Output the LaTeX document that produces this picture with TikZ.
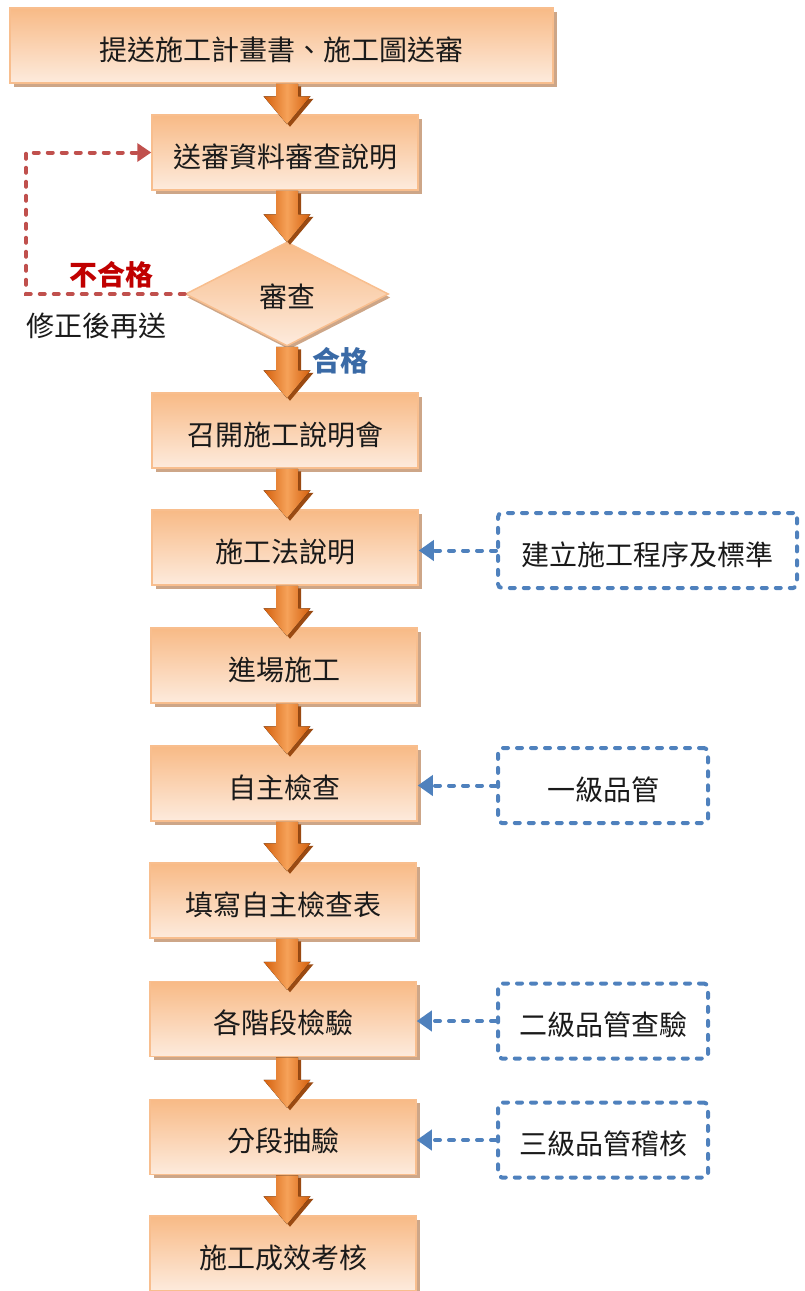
\documentclass[tikz,border=0pt]{standalone}
\usepackage{fontspec}
\newfontfamily\cjk{Noto Sans CJK TC}
\usetikzlibrary{shapes.geometric,shadows,calc,arrows.meta}
\definecolor{boxtop}{HTML}{F8BA86}
\definecolor{boxbot}{HTML}{FDEBDD}
\definecolor{boxedge}{HTML}{F8BE8E}
\definecolor{boxshadow}{HTML}{CDA688}
\definecolor{arrD}{HTML}{D45F0C}
\definecolor{arrL}{HTML}{F6A259}
\definecolor{arrS}{HTML}{9A4A12}
\definecolor{redline}{HTML}{C0504D}
\definecolor{redlab}{HTML}{C00000}
\definecolor{bluelab}{HTML}{3A6AA6}
\definecolor{blueline}{HTML}{4F81BD}
\definecolor{txt}{HTML}{1A1A1A}
\tikzset{
  box/.style={rectangle, draw=boxedge, line width=1.5pt, top color=boxtop, bottom color=boxbot,
    minimum height=75pt, minimum width=266pt, inner sep=0pt, text=txt,
    text height=29pt, text depth=0pt,
    drop shadow={shadow xshift=3.5pt, shadow yshift=-3.5pt, fill=boxshadow, opacity=1}},
  decision/.style={diamond, draw=boxedge, line width=1.5pt, top color=boxtop, bottom color=boxbot,
    minimum width=203pt, minimum height=104pt, inner sep=0pt, text=txt,
    text height=26pt, text depth=0pt,
    drop shadow={shadow xshift=2pt, shadow yshift=-3.5pt, fill=boxshadow, opacity=1}},
  barrow/.style={left color=arrD, right color=arrD, middle color=arrL,
    drop shadow={shadow xshift=3pt, shadow yshift=-2.5pt, fill=arrS, opacity=1}},
  bbox/.style={rectangle, draw=blueline, line width=4pt, dash pattern=on 5pt off 9pt,
    line cap=round, rounded corners=4pt, minimum height=75pt, inner sep=0pt, text=txt,
    text height=29pt, text depth=0pt},
  bluearrow/.style={draw=blueline, line width=4pt, dash pattern=on 5pt off 9pt, line cap=round,
    -{Triangle[length=15pt,width=20pt,line cap=butt]}},
  redarrow/.style={draw=redline, line width=4pt, dash pattern=on 5pt off 9pt, line cap=round,
    -{Triangle[length=14pt,width=18pt,line cap=butt]}},
  lab/.style={inner sep=0pt}
}
\newcommand\blockarrow[3]{%
  \coordinate (s) at (#1.south -| ax);
  \coordinate (t) at ($(#2.north -| ax)+(0,#3)$);
  \fill[barrow] ($(s)+(-11,0)$) -- ($(s)+(11,0)$) -- ($(t)+(11,-28)$) -- ($(t)+(23.5,-28)$)
    -- (t) -- ($(t)+(-23.5,-28)$) -- ($(t)+(-11,-28)$) -- cycle;}
\begin{document}
\begin{tikzpicture}[x=1pt,y=-1pt,font=\cjk\fontsize{28}{33}\selectfont]
\useasboundingbox (0,0) rectangle (805,1291);
\coordinate (ax) at (287,0);
% main boxes
\node[box, minimum width=543pt] (b1) at (281.5,45.5) {提送施工計畫書、施工圖送審};
\node[box] (b2) at (285,152.5) {送審資料審查說明};
\node[decision] (d) at (287,294) {審查};
\node[box] (b3) at (285,430.5) {召開施工說明會};
\node[box] (b4) at (285,547.5) {施工法說明};
\node[box] (b5) at (284,665.5) {進場施工};
\node[box] (b6) at (284,783.5) {自主檢查};
\node[box] (b7) at (283,900.5) {填寫自主檢查表};
\node[box] (b8) at (283,1019) {各階段檢驗};
\node[box] (b9) at (283,1137) {分段抽驗};
\node[box] (b10) at (283,1253.5) {施工成效考核};
% block arrows
\blockarrow{b1}{b2}{10}
\blockarrow{b2}{d}{1}
\blockarrow{d}{b3}{6}
\blockarrow{b3}{b4}{9}
\blockarrow{b4}{b5}{9}
\blockarrow{b5}{b6}{9}
\blockarrow{b6}{b7}{9}
\blockarrow{b7}{b8}{9}
\blockarrow{b8}{b9}{9}
\blockarrow{b9}{b10}{9}
% reject loop
\coordinate (rc) at (26,294);
\draw[redarrow] (d.west) -- (rc) |- (b2.west);
\node[lab, text=redlab, font=\cjk\bfseries\fontsize{28}{32}\selectfont] (lno) at (111,275) {不合格};
\node[lab, text=txt] (lfix) at (97,326) {修正後再送};
\node[lab, text=bluelab, font=\cjk\bfseries\fontsize{28}{32}\selectfont] (lok) at (340,361) {合格};
% side boxes
\node[bbox, minimum width=299pt] (r1) at (647.5,550.5) {建立施工程序及標準};
\node[bbox, minimum width=210pt] (r2) at (603,785.5) {一級品管};
\node[bbox, minimum width=210pt] (r3) at (603,1021) {二級品管查驗};
\node[bbox, minimum width=210pt] (r4) at (603,1140) {三級品管稽核};
\draw[bluearrow] (r1.west) -- (r1.west -| b4.east);
\draw[bluearrow] (r2.west) -- (r2.west -| b6.east);
\draw[bluearrow] (r3.west) -- (r3.west -| b8.east);
\draw[bluearrow] (r4.west) -- (r4.west -| b9.east);
\end{tikzpicture}
\end{document}
